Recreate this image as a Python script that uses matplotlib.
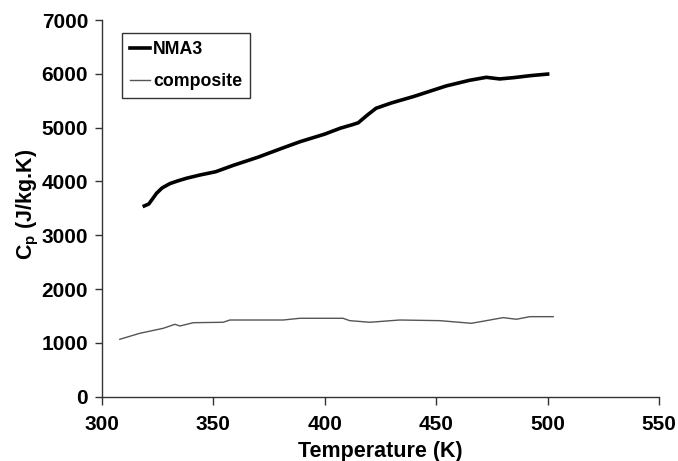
import matplotlib
matplotlib.use("Agg")
import matplotlib.pyplot as plt

plt.rcParams['font.family'] = ['Liberation Sans', 'DejaVu Sans']
plt.rcParams['font.weight'] = 'bold'
plt.rcParams['mathtext.fontset'] = 'custom'
plt.rcParams['mathtext.bf'] = 'Liberation Sans:bold'
plt.rcParams['mathtext.rm'] = 'Liberation Sans:bold'

# NMA3 heat capacity
nma3_T = [319, 321, 324.5, 327, 330.5, 334, 338, 344, 351, 359, 370, 381, 389, 400, 407,
          412, 415, 419, 423, 430, 440, 454.5, 465, 472.5, 478.5, 485, 492, 500]
nma3_cp = [3545, 3580, 3780, 3880, 3960, 4010, 4060, 4120, 4180, 4300, 4450, 4620, 4740,
           4880, 4990, 5050, 5090, 5230, 5360, 5460, 5580, 5775, 5880, 5935, 5905, 5930,
           5965, 5995]

# composite heat capacity
comp_T = [308, 317, 327.5, 332.7, 335, 341, 354.4, 357.4, 381.3, 388.8, 408.2,
          411.2, 420.2, 433.6, 451.6, 465.8, 472.5, 480, 486, 492, 502.5]
comp_cp = [1067, 1178, 1271, 1345, 1314, 1375, 1383, 1425, 1425, 1457, 1457,
           1413, 1383, 1425, 1413, 1364, 1413, 1469, 1439, 1487, 1487]

x_ticks = [300, 350, 400, 450, 500, 550]
y_ticks = [0, 1000, 2000, 3000, 4000, 5000, 6000, 7000]

fig = plt.figure(figsize=(6.78, 4.61), dpi=100)
ax = fig.add_axes([0.1504, 0.1395, 0.8216, 0.8171])

ax.plot(nma3_T, nma3_cp, color='black', lw=2.6, label='NMA3')
ax.plot(comp_T, comp_cp, color='#555555', lw=1.0, label='composite')

ax.set_xlim(300, 550)
ax.set_ylim(0, 7000)
ax.set_xticks(x_ticks)
ax.set_yticks(y_ticks)

for s in ['top', 'right']:
    ax.spines[s].set_visible(False)
for s in ['left', 'bottom']:
    ax.spines[s].set_color('#333333')
    ax.spines[s].set_linewidth(1.0)

ax.tick_params(axis='x', direction='out', length=6, width=1, color='#333333',
               labelsize=15, pad=7)
ax.tick_params(axis='y', direction='out', length=5, width=1, color='#333333',
               labelsize=15, pad=5)

ax.set_xlabel('Temperature (K)', fontsize=15.5, fontweight='bold', labelpad=5)
ax.set_ylabel(r'$\mathbf{C_p}$ (J/kg.K)', fontsize=15.5, fontweight='bold')
ax.yaxis.set_label_coords(-0.109, 0.51)

leg = ax.legend(loc='upper left', bbox_to_anchor=(0.036, 0.965), fontsize=12.8,
                frameon=True, fancybox=False, handlelength=1.1, handletextpad=0.2,
                borderpad=0.45, labelspacing=0.85, borderaxespad=0)
leg.get_frame().set_edgecolor('black')
leg.get_frame().set_linewidth(1.0)

fig.savefig('out.png', dpi=100)
